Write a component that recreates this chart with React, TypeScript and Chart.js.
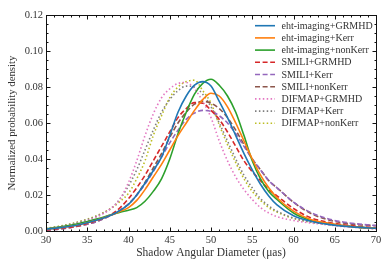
import React, { useEffect, useRef } from 'react';
import { Chart, registerables } from 'chart.js';

Chart.register(...registerables);

const diameters = [30, 32, 34, 36, 38, 39, 40, 41, 42, 43, 44, 45, 46, 47, 48, 49, 50, 51, 52, 53, 54, 55, 56, 57, 58, 60, 62, 64, 66, 68, 70];

const ehtGRMHD = [0.001, 0.002, 0.0035, 0.0058, 0.009, 0.0115, 0.0148, 0.02, 0.0265, 0.0335, 0.041, 0.053, 0.066, 0.075, 0.081, 0.083, 0.0805, 0.072, 0.063, 0.053, 0.043, 0.034, 0.026, 0.0195, 0.0145, 0.0085, 0.0055, 0.0038, 0.0027, 0.002, 0.0015];
const ehtKerr = [0.001, 0.002, 0.0035, 0.0058, 0.009, 0.011, 0.013, 0.017, 0.023, 0.03, 0.037, 0.045, 0.053, 0.06, 0.067, 0.073, 0.0765, 0.075, 0.069, 0.06, 0.05, 0.04, 0.031, 0.024, 0.0185, 0.011, 0.0065, 0.0045, 0.003, 0.002, 0.0015];
const ehtNonKerr = [0.0012, 0.0025, 0.0042, 0.0065, 0.0092, 0.0105, 0.0115, 0.013, 0.0165, 0.022, 0.029, 0.04, 0.054, 0.066, 0.076, 0.082, 0.0843, 0.081, 0.075, 0.066, 0.053, 0.039, 0.029, 0.022, 0.0175, 0.01, 0.006, 0.0042, 0.003, 0.002, 0.0015];
const smiliGRMHD = [0.0006, 0.0015, 0.003, 0.0055, 0.0095, 0.013, 0.018, 0.024, 0.031, 0.039, 0.047, 0.055, 0.063, 0.068, 0.0713, 0.071, 0.067, 0.062, 0.055, 0.047, 0.039, 0.033, 0.028, 0.023, 0.0195, 0.0125, 0.0075, 0.005, 0.0035, 0.0025, 0.0018];
const smiliKerr = [0.0005, 0.0013, 0.0028, 0.005, 0.009, 0.0115, 0.015, 0.02, 0.026, 0.033, 0.041, 0.049, 0.056, 0.062, 0.0655, 0.067, 0.0665, 0.064, 0.06, 0.054, 0.047, 0.04, 0.034, 0.028, 0.024, 0.016, 0.0105, 0.007, 0.005, 0.0038, 0.003];
const smiliNonKerr = [0.0005, 0.0013, 0.0028, 0.005, 0.009, 0.0115, 0.015, 0.02, 0.027, 0.035, 0.043, 0.052, 0.06, 0.066, 0.0705, 0.072, 0.071, 0.068, 0.063, 0.056, 0.048, 0.04, 0.034, 0.028, 0.024, 0.016, 0.01, 0.0065, 0.0045, 0.0035, 0.003];
const difmapGRMHD = [0.0012, 0.0025, 0.0045, 0.0075, 0.013, 0.018, 0.027, 0.039, 0.053, 0.065, 0.074, 0.079, 0.082, 0.0825, 0.079, 0.072, 0.063, 0.05, 0.039, 0.03, 0.023, 0.0175, 0.013, 0.01, 0.008, 0.0058, 0.0045, 0.0035, 0.0025, 0.0018, 0.0012];
const difmapKerr = [0.0012, 0.0028, 0.005, 0.008, 0.013, 0.018, 0.025, 0.034, 0.045, 0.056, 0.066, 0.073, 0.078, 0.0805, 0.08, 0.076, 0.069, 0.06, 0.05, 0.04, 0.031, 0.024, 0.018, 0.014, 0.011, 0.0072, 0.005, 0.0038, 0.0028, 0.002, 0.0013];
const difmapNonKerr = [0.0015, 0.003, 0.0052, 0.0082, 0.013, 0.0165, 0.021, 0.029, 0.039, 0.053, 0.064, 0.074, 0.08, 0.083, 0.0838, 0.078, 0.071, 0.059, 0.048, 0.038, 0.029, 0.022, 0.017, 0.013, 0.0105, 0.007, 0.005, 0.0038, 0.0028, 0.002, 0.0013];

const seriesLabels = [
  'eht-imaging+GRMHD', 'eht-imaging+Kerr', 'eht-imaging+nonKerr',
  'SMILI+GRMHD', 'SMILI+Kerr', 'SMILI+nonKerr',
  'DIFMAP+GRMHD', 'DIFMAP+Kerr', 'DIFMAP+nonKerr',
];
const seriesValues = [ehtGRMHD, ehtKerr, ehtNonKerr, smiliGRMHD, smiliKerr, smiliNonKerr, difmapGRMHD, difmapKerr, difmapNonKerr];
const seriesColors = ['#1f77b4', '#ff7f0e', '#2ca02c', '#d62728', '#9467bd', '#8c564b', '#e377c2', '#7f7f7f', '#bcbd22'];
const seriesStyles = ['solid', 'solid', 'solid', 'dashed', 'dashed', 'dashed', 'dotted', 'dotted', 'dotted'];

const xTickValues = [30, 35, 40, 45, 50, 55, 60, 65, 70];
const yTickValues = [0, 0.02, 0.04, 0.06, 0.08, 0.1, 0.12];
const xTitle = 'Shadow Angular Diameter (μas)';
const yTitle = 'Normalized probability density';

const FONT = '"Liberation Serif", "DejaVu Serif", serif';
const LW = 1.6;
const dashFor = (s: string) => (s === 'dashed' ? [5, 2.6] : s === 'dotted' ? [1.5, 2.4] : []);

const frameTicks = {
  id: 'frameTicks',
  afterDatasetsDraw(chart: any) {
    const { ctx, chartArea: a, scales } = chart;
    const xs = scales.x;
    const ys = scales.y;
    ctx.save();
    ctx.strokeStyle = '#111';
    ctx.lineWidth = 1;
    ctx.setLineDash([]);
    const L = Math.round(a.left) + 0.5;
    const R = Math.round(a.right) + 0.5;
    const T = Math.round(a.top) + 0.5;
    const B = Math.round(a.bottom) + 0.5;
    ctx.strokeRect(L, T, R - L, B - T);
    ctx.beginPath();
    for (let v = 30; v <= 70; v += 1) {
      const px = Math.round(xs.getPixelForValue(v)) + 0.5;
      const len = v % 5 === 0 ? 4 : 2;
      ctx.moveTo(px, B); ctx.lineTo(px, B - len);
      ctx.moveTo(px, T); ctx.lineTo(px, T + len);
    }
    for (let i = 0; i <= 24; i++) {
      const v = i * 0.005;
      const py = Math.round(ys.getPixelForValue(v)) + 0.5;
      const len = i % 4 === 0 ? 4 : 2;
      ctx.moveTo(L, py); ctx.lineTo(L + len, py);
      ctx.moveTo(R, py); ctx.lineTo(R - len, py);
    }
    ctx.stroke();

    // legend
    const x0 = a.right - 121;
    const x1 = a.right - 101;
    const tx = a.right - 94.5;
    ctx.font = `10px ${FONT}`;
    ctx.textBaseline = 'middle';
    ctx.textAlign = 'left';
    seriesLabels.forEach((lab, i) => {
      const y = a.top + 10.7 + i * 12.2;
      ctx.strokeStyle = seriesColors[i];
      ctx.lineWidth = LW;
      ctx.setLineDash(dashFor(seriesStyles[i]));
      ctx.beginPath();
      ctx.moveTo(x0, y); ctx.lineTo(x1, y);
      ctx.stroke();
      ctx.fillStyle = '#333';
      ctx.fillText(lab, tx, y + 0.5);
    });
    ctx.restore();
  },
};

export default function App() {
  const ref = useRef<HTMLCanvasElement>(null);
  useEffect(() => {
    if (!ref.current) return;
    const datasets = seriesLabels.map((label, i) => ({
      label,
      data: diameters.map((d, j) => ({ x: d, y: seriesValues[i][j] })),
      borderColor: seriesColors[i],
      backgroundColor: seriesColors[i],
      borderWidth: LW,
      borderDash: dashFor(seriesStyles[i]),
      pointRadius: 0,
      fill: false,
      cubicInterpolationMode: 'monotone' as const,
    }));
    const chart = new Chart(ref.current, {
      type: 'line',
      data: { datasets },
      plugins: [frameTicks],
      options: {
        animation: false,
        responsive: false,
        maintainAspectRatio: false,
        layout: { padding: { top: 15, right: 14, left: 0, bottom: 0 } },
        plugins: { legend: { display: false }, tooltip: { enabled: false } },
        scales: {
          x: {
            type: 'linear',
            min: 30,
            max: 70,
            afterFit: (s: any) => { s.height = 38; },
            afterBuildTicks: (s: any) => { s.ticks = xTickValues.map((v) => ({ value: v })); },
            grid: { display: false, drawTicks: false },
            border: { display: false },
            ticks: { color: '#333', font: { family: FONT, size: 10.5 }, padding: 3, maxRotation: 0, autoSkip: false },
            title: { display: true, text: xTitle, color: '#333', font: { family: FONT, size: 11.5 }, padding: { top: 0, bottom: 9 } },
          },
          y: {
            type: 'linear',
            min: 0,
            max: 0.12,
            afterFit: (s: any) => { s.width = 46; },
            afterBuildTicks: (s: any) => { s.ticks = yTickValues.map((v) => ({ value: v })); },
            grid: { display: false, drawTicks: false },
            border: { display: false },
            ticks: { color: '#333', font: { family: FONT, size: 10.5 }, padding: 3, callback: (v: any) => Number(v).toFixed(2) },
            title: { display: true, text: yTitle, color: '#333', font: { family: FONT, size: 10.8 }, padding: { top: 6, bottom: 0 } },
          },
        },
      },
    });
    return () => chart.destroy();
  }, []);
  return (
    <div style={{ position: 'absolute', left: 0, top: 0, width: 390, height: 269, background: '#fff' }}>
      <canvas ref={ref} width={390} height={269} style={{ width: 390, height: 269, display: 'block' }} />
    </div>
  );
}
